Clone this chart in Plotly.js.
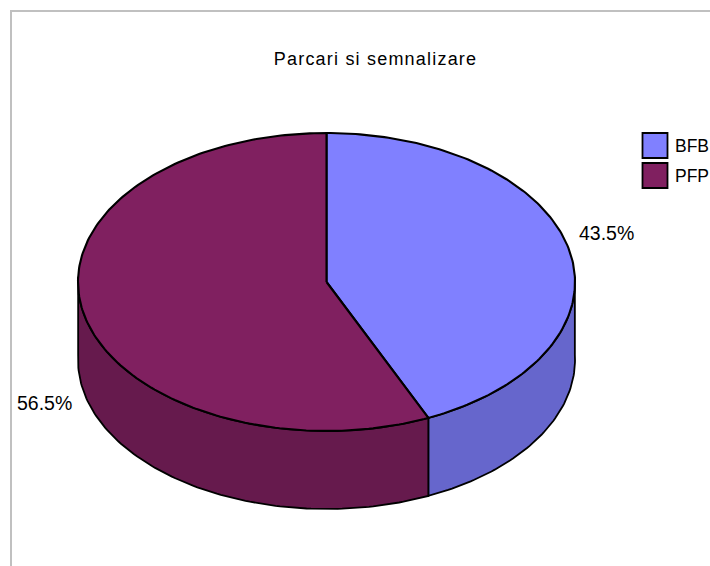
<!DOCTYPE html>
<html>
<head>
<meta charset="utf-8">
<script src="https://cdn.plot.ly/plotly-3.0.1.min.js"></script>
<style>
html,body{margin:0;padding:0;background:#fff;}
#chart{width:710px;height:566px;}
</style>
</head>
<body>
<div id="chart"></div>
<script>
var categories = ['BFB', 'PFP'];
var shares = [43.5, 56.5];
var topColors = ['#8080FF', '#802060'];
var sideColors = ['#6666CC', '#661A4D'];
var chartTitle = 'Parcari si semnalizare';

var FONT = 'Liberation Sans, Arial, sans-serif';
var cx = 326.5, cy = 282, rx = 248.5, ry = 149, depth = 78;

// Small perspective correction of the projected angle (the ellipse itself is unchanged).
function project(deg) { return deg - 2 * Math.sin(deg * Math.PI / 180); }
function pt(deg, dy) {
  var t = project(deg) * Math.PI / 180;
  return [cx + rx * Math.sin(t), cy - ry * Math.cos(t) + (dy || 0)];
}
function arc(a, b, dy) {
  var n = Math.max(2, Math.ceil(Math.abs(b - a))), out = [];
  for (var i = 0; i <= n; i++) out.push(pt(a + (b - a) * i / n, dy));
  return out;
}
function poly(points, color, width, name) {
  return {
    type: 'scatter', mode: 'lines', fill: 'toself', fillcolor: color,
    x: points.map(function (p) { return p[0]; }),
    y: points.map(function (p) { return p[1]; }),
    line: { color: '#000', width: width, shape: 'linear' },
    name: name, showlegend: false, hoverinfo: 'name'
  };
}

var total = shares.reduce(function (s, v) { return s + v; }, 0);
var sides = [], tops = [], start = 0;
shares.forEach(function (v, i) {
  var end = start + v / total * 360;
  var a = Math.max(start, 90), b = Math.min(end, 270);
  if (b > a) {
    var wall = arc(a, b, 0).concat(arc(b, a, depth));
    wall.push(wall[0]);
    sides.push(poly(wall, sideColors[i], 1.8, categories[i]));
  }
  var top = [[cx, cy]].concat(arc(start, end, 0));
  top.push([cx, cy]);
  tops.push(poly(top, topColors[i], 2.1, categories[i]));
  start = end;
});

var shapes = [
  { type: 'line', xref: 'x', yref: 'y', x0: 11, x1: 710, y0: 11, y1: 11, line: { color: '#C0C0C0', width: 2 } },
  { type: 'line', xref: 'x', yref: 'y', x0: 11, x1: 11, y0: 10, y1: 566, line: { color: '#C0C0C0', width: 2 } }
];
var annotations = [
  { text: chartTitle, x: 375.5, y: 59, size: 18 },
  { text: shares[0].toFixed(1) + '%', x: 606, y: 233, size: 19.5 },
  { text: shares[1].toFixed(1) + '%', x: 44.5, y: 403, size: 19.5 }
].map(function (a) {
  return { text: a.text, x: a.x, y: a.y, xref: 'x', yref: 'y', showarrow: false,
    xanchor: 'center', yanchor: 'middle', font: { family: FONT, size: a.size, color: '#000' } };
});

var swatchTop = [133, 163];
categories.forEach(function (c, i) {
  shapes.push({ type: 'rect', xref: 'x', yref: 'y', x0: 642.5, x1: 667.5, y0: swatchTop[i], y1: swatchTop[i] + 25,
    fillcolor: topColors[i], line: { color: '#000', width: 1.8 } });
  annotations.push({ text: c, x: 673, y: swatchTop[i] + 12.5, xref: 'x', yref: 'y', showarrow: false,
    xanchor: 'left', yanchor: 'middle', font: { family: FONT, size: 17.5, color: '#000' } });
});

var layout = {
  width: 710, height: 566, margin: { l: 0, r: 0, t: 0, b: 0 },
  paper_bgcolor: '#fff', plot_bgcolor: '#fff', showlegend: false,
  xaxis: { range: [0, 710], visible: false, fixedrange: true },
  yaxis: { range: [566, 0], visible: false, fixedrange: true },
  shapes: shapes, annotations: annotations
};
Plotly.newPlot('chart', sides.concat(tops), layout, { displayModeBar: false, staticPlot: true }).then(function () {
  var t = document.querySelector('.annotation-text');
  if (t) t.style.letterSpacing = '1.2px';
});
</script>
</body>
</html>
